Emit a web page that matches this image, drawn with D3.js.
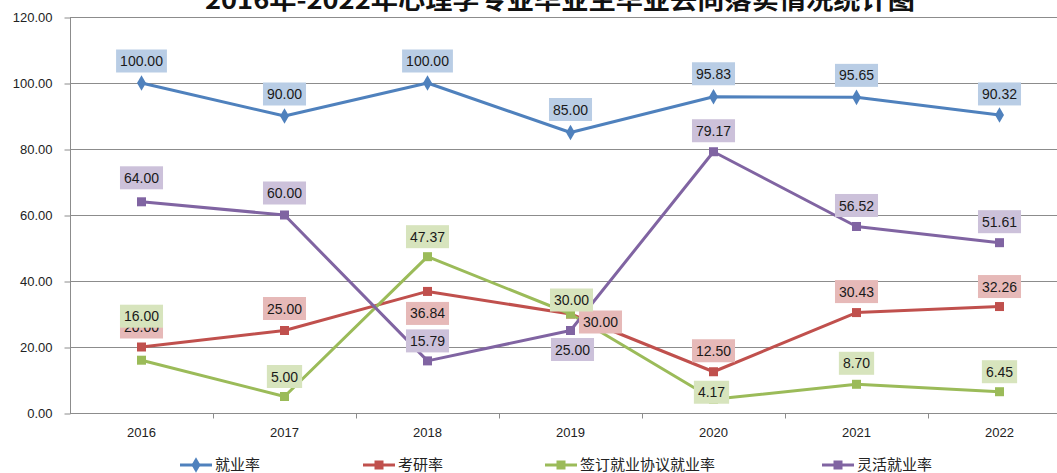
<!DOCTYPE html>
<html>
<head>
<meta charset="utf-8">
<script src="https://cdn.jsdelivr.net/npm/d3@7"></script>
<style>
body { margin: 0; background: #fff; }
svg { display: block; font-family: "Liberation Sans", Arial, sans-serif; }
.grid line { stroke: #8c8c8c; stroke-width: 1; }
.axis path, .axis line { stroke: #8c8c8c; }
.axis text { fill: #222; font-size: 13px; }
.lbl text { font-size: 14px; fill: #1a1a1a; }
</style>
</head>
<body>
<div id="chart"></div>
<script>
let w = 1057
let h = 473

// data
let years = ["2016", "2017", "2018", "2019", "2020", "2021", "2022"]
let employRate = [100, 90, 100, 85, 95.83, 95.65, 90.32]
let gradRate = [20, 25, 36.84, 30, 12.5, 30.43, 32.26]
let contractRate = [16, 5, 47.37, 30, 4.17, 8.70, 6.45]
let flexRate = [64, 60, 15.79, 25, 79.17, 56.52, 51.61]
let seriesNames = ["就业率", "考研率", "签订就业协议就业率", "灵活就业率"]
let yTicks = [0, 20, 40, 60, 80, 100, 120]
let titleText = "2016年-2022年心理学专业毕业生毕业去向落实情况统计图"

let colors = ["#4f81bd", "#c0504d", "#9bbb59", "#8064a2"]
let boxFill = ["#b9cde5", "#e6b9b8", "#d7e4bd", "#ccc1da"]

// label placement (dx, dy from the point)
let labelOffsets = [
	[[0, -22], [0, -22], [0, -22], [0, -23], [0, -23], [0, -22], [0, -21]],
	[[0, -20], [0, -22], [0, 22], [30, 8], [0, -21], [0, -21], [0, -20]],
	[[0, -44], [0, -20], [0, -20], [1, -14], [-2, -7], [0, -21], [0, -20]],
	[[0, -24], [0, -22], [0, -20], [2, 19], [0, -21], [0, -21], [0, -21]]
]

let allSeries = [employRate, gradRate, contractRate, flexRate]

let svg = d3.select("#chart")
	.append("svg")
	.attr("width", w)
	.attr("height", h)

let x = d3.scaleBand()
	.domain(years)
	.range([70, 1071])

let y = d3.scaleLinear()
	.domain([0, 120])
	.range([413, 17])

let cx = d => x(d) + x.bandwidth() / 2

// gridlines
svg.append("g")
	.attr("class", "grid")
	.selectAll("line")
	.data(yTicks.filter(t => t > 0))
	.enter()
	.append("line")
	.attr("x1", 70)
	.attr("x2", w)
	.attr("y1", d => Math.round(y(d)) + 0.5)
	.attr("y2", d => Math.round(y(d)) + 0.5)

// y axis
svg.append("g")
	.attr("class", "axis")
	.attr("transform", "translate(70.5, 0.5)")
	.call(d3.axisLeft(y).tickValues(yTicks).tickSize(6).tickPadding(12).tickFormat(d3.format(".2f")))
	.call(g => g.select(".domain").attr("d", "M0," + y(0) + "V" + y(120)))

// x axis
let xg = svg.append("g")
	.attr("class", "axis")
	.attr("transform", "translate(0, 413.5)")
	.call(d3.axisBottom(x).tickSize(0).tickPadding(14))
xg.select(".domain").attr("d", "M70,0H" + w)
xg.selectAll(".bound")
	.data(years)
	.enter()
	.append("line")
	.attr("class", "bound")
	.attr("x1", d => Math.round(x(d) + x.bandwidth()) + 0.5)
	.attr("x2", d => Math.round(x(d) + x.bandwidth()) + 0.5)
	.attr("y1", 0)
	.attr("y2", 5)

// lines
let line = d3.line()
	.x((d, i) => cx(years[i]))
	.y(d => y(d))

allSeries.forEach((s, k) => {
	svg.append("path")
		.datum(s)
		.attr("fill", "none")
		.attr("stroke", colors[k])
		.attr("stroke-width", 3)
		.attr("stroke-linejoin", "round")
		.attr("d", line)
})

// markers
let diamond = d3.symbol().type(d3.symbolDiamond).size(70)
allSeries.forEach((s, k) => {
	let g = svg.append("g")
	if (k == 0) {
		g.selectAll("path")
			.data(s)
			.enter()
			.append("path")
			.attr("transform", (d, i) => "translate(" + cx(years[i]) + "," + y(d) + ")")
			.attr("d", diamond)
			.attr("fill", colors[k])
	} else {
		g.selectAll("rect")
			.data(s)
			.enter()
			.append("rect")
			.attr("x", (d, i) => cx(years[i]) - 4.5)
			.attr("y", d => y(d) - 4.5)
			.attr("width", 9)
			.attr("height", 9)
			.attr("fill", colors[k])
	}
})

// data labels
allSeries.forEach((s, k) => {
	let g = svg.append("g").attr("class", "lbl")
	s.forEach((v, i) => {
		let off = labelOffsets[k][i]
		let lx = cx(years[i]) + off[0]
		let ly = y(v) + off[1]
		let item = g.append("g").attr("transform", "translate(" + lx + "," + ly + ")")
		let t = item.append("text")
			.attr("text-anchor", "middle")
			.attr("dy", "0.36em")
			.text(d3.format(".2f")(v))
		let bw = t.node().getComputedTextLength() + 8
		item.insert("rect", "text")
			.attr("x", -bw / 2)
			.attr("y", -11.5)
			.attr("width", bw)
			.attr("height", 23)
			.attr("fill", boxFill[k])
	})
})

// title (top is cut off in the original)
svg.append("text")
	.attr("x", 560)
	.attr("y", 9)
	.attr("text-anchor", "middle")
	.attr("font-family", "Noto Sans CJK SC")
	.attr("font-weight", "bold")
	.attr("font-size", 24)
	.attr("textLength", 710)
	.attr("lengthAdjust", "spacingAndGlyphs")
	.attr("fill", "#111")
	.text(titleText)

// legend
let legendX = [180, 363, 545, 822]
let lg = svg.append("g").attr("transform", "translate(0, 465)")
seriesNames.forEach((name, k) => {
	let it = lg.append("g").attr("transform", "translate(" + legendX[k] + ",0)")
	it.append("line")
		.attr("x1", 0).attr("x2", 32)
		.attr("stroke", colors[k])
		.attr("stroke-width", 3)
	if (k == 0) {
		it.append("path")
			.attr("transform", "translate(16,0)")
			.attr("d", diamond)
			.attr("fill", colors[k])
	} else {
		it.append("rect")
			.attr("x", 11.5).attr("y", -4.5)
			.attr("width", 9).attr("height", 9)
			.attr("fill", colors[k])
	}
	it.append("text")
		.attr("x", 35)
		.attr("dy", "0.36em")
		.attr("font-family", "Noto Sans CJK SC")
		.attr("font-size", 15)
		.attr("fill", "#222")
		.text(name)
})
</script>
</body>
</html>
